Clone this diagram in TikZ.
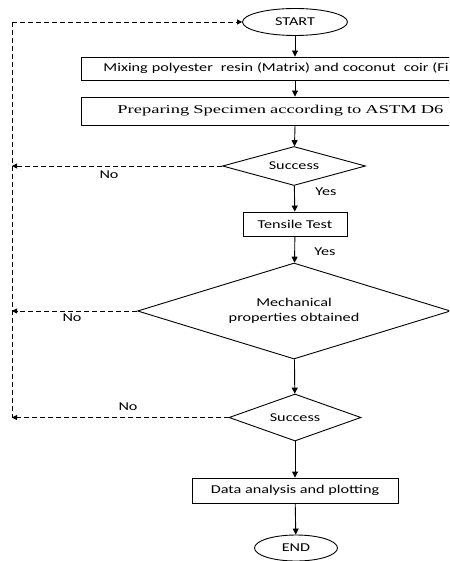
\documentclass[tikz,border=0pt]{standalone}
\usepackage{fontspec}
\setmainfont{Carlito}[FakeStretch=1.35]
\newfontfamily\prepfont{Liberation Serif}[FakeStretch=1.54]
\usetikzlibrary{shapes.geometric,arrows.meta}
\begin{document}
\begin{tikzpicture}[x=1pt,y=-1pt,
  every node/.style={font=\fontsize{12}{15}\selectfont},
  box/.style={draw,line width=0.9pt,rectangle,inner sep=0pt},
  term/.style={draw,line width=0.9pt,ellipse,inner sep=0pt},
  dec/.style={draw,line width=0.9pt,diamond,inner sep=0pt},
  flow/.style={line width=0.9pt,-{Triangle[length=6pt,width=6pt]}},
  loopline/.style={line width=0.8pt,dash pattern=on 5pt off 3pt},
  looparr/.style={loopline,-{Triangle[length=5pt,width=5pt]}},
  lbl/.style={inner sep=0pt}]
\clip (0,0) rectangle (449,561);
\node[term,minimum width=105,minimum height=27] (start) at (295,22) {START};
\node[box,anchor=west,minimum height=23,text width=420,align=left,inner xsep=22pt] (box1) at (81,68.5)
  {Mixing polyester\ \ resin (Matrix) and coconut\ \ coir (Fi};
\node[box,anchor=west,minimum height=28,text width=420,align=left,inner xsep=36pt,font=\prepfont\fontsize{12}{15}\selectfont] (box2) at (81,111)
  {Preparing Specimen according to ASTM D6};
\node[dec,minimum width=143,minimum height=39,shape aspect=3.7] (d1) at (294,166) {Success};
\node[box,minimum width=104,minimum height=24] (tt) at (295,224) {Tensile Test};
\node[dec,minimum width=313,minimum height=96,shape aspect=3.26,align=center] (d2) at (294,311) {Mechanical\\properties obtained};
\node[dec,minimum width=132,minimum height=47,shape aspect=2.8] (d3) at (295,417.5) {Success};
\node[box,minimum width=206,minimum height=25] (data) at (295,490.5) {Data analysis and plotting};
\node[term,minimum width=83,minimum height=26] (stop) at (296,548) {END};
\coordinate (tl) at (12,22);
% main flow
\draw[flow] (start) -- (start |- box1.north);
\draw[flow] (start |- box1.south) -- (start |- box2.north);
\draw[flow] (start |- box2.south) -- (d1);
\draw[flow] (d1) -- (tt);
\draw[flow] (tt) -- (d2);
\draw[flow] (d2) -- (d3);
\draw[flow] (d3) -- (data);
\draw[flow] (data) -- (stop);
% loop back
\draw[loopline] (tl) -- (tl |- d3.west);
\draw[looparr] (tl) -- (start.west);
\draw[looparr] (d1.west) -- (d1.west -| tl);
\draw[looparr] (d2.west) -- (d2.west -| tl);
\draw[looparr] (d3.west) -- (d3.west -| tl);
% labels
\node[lbl] (no1) at (109,175) {No};
\node[lbl] (yes1) at (326,192) {Yes};
\node[lbl] (yes2) at (325,252) {Yes};
\node[lbl] (no2) at (72,318) {No};
\node[lbl] (no3) at (128,407) {No};
\end{tikzpicture}
\end{document}
